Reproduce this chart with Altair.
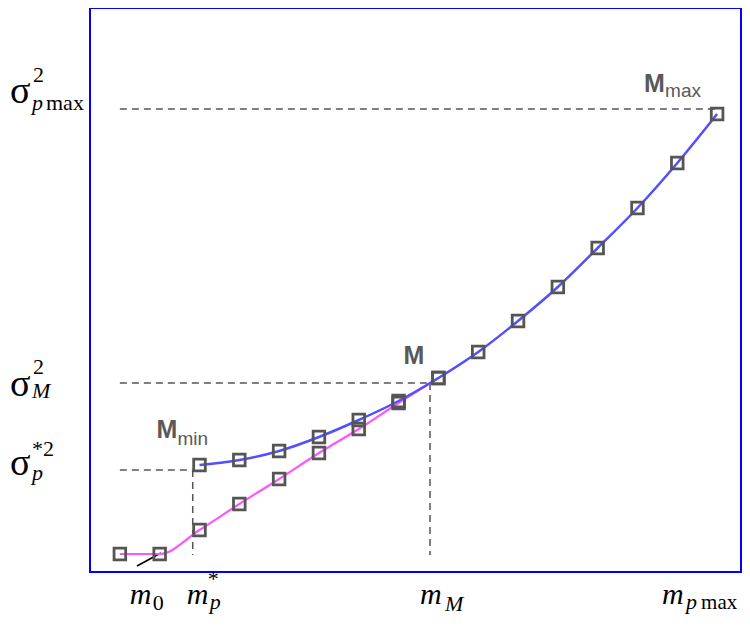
import altair as alt
import pandas as pd

# ---- data ----
m_pink = [0, 1, 2, 3, 4, 5, 6, 7, 8]
v_pink = [0.20, 0.20, 0.44, 0.70, 0.95, 1.21, 1.45, 1.71, 1.96]
m_blue = [2, 3, 4, 5, 6, 7, 8, 9, 10, 11, 12, 13, 14, 15]
v_blue = [1.09, 1.14, 1.23, 1.37, 1.54, 1.73, 1.96, 2.22, 2.53, 2.87, 3.26, 3.66, 4.11, 4.60]

m0 = 0.0
m_p_star = 1.83
m_M = 7.79
m_pmax = 15.0
var_pmax = 4.65
var_M = 1.91
var_p_star = 1.04
var_floor = 0.19

X_DOM = [-0.75, 15.6]
Y_DOM = [0.02, 5.66]

xs = alt.Scale(domain=X_DOM, nice=False, zero=False)
ys = alt.Scale(domain=Y_DOM, nice=False, zero=False)

pink_df = pd.DataFrame({"m": m_pink, "v": v_pink})
blue_df = pd.DataFrame({"m": m_blue, "v": v_blue})

X = lambda f="m": alt.X(f"{f}:Q", scale=xs, axis=None)
Y = lambda f="v": alt.Y(f"{f}:Q", scale=ys, axis=None)

dash_df = pd.DataFrame({
    "x": [m0, m0, m_M, m0, m_p_star],
    "x2": [m_pmax, m_M, m_M, m_p_star, m_p_star],
    "y": [var_pmax, var_M, var_M, var_p_star, var_p_star],
    "y2": [var_pmax, var_M, var_floor, var_p_star, var_floor],
})
dashes = alt.Chart(dash_df).mark_rule(color="#555555", strokeWidth=1.5, strokeDash=[7, 5]).encode(
    x=alt.X("x:Q", scale=xs, axis=None), x2="x2:Q",
    y=alt.Y("y:Q", scale=ys, axis=None), y2="y2:Q")

pointer_df = pd.DataFrame({"x": [0.43], "x2": [1.03], "y": [0.08], "y2": [0.21]})
pointer = alt.Chart(pointer_df).mark_rule(color="black", strokeWidth=1.5).encode(
    x=alt.X("x:Q", scale=xs, axis=None), x2="x2:Q",
    y=alt.Y("y:Q", scale=ys, axis=None), y2="y2:Q")

pink_line = alt.Chart(pink_df).mark_line(color="#ff55ff", strokeWidth=2.2, interpolate="monotone").encode(x=X(), y=Y())
blue_line = alt.Chart(blue_df).mark_line(color="#5050ff", strokeWidth=2.5, interpolate="monotone").encode(x=X(), y=Y())
pts_style = dict(shape="square", filled=False, size=135, strokeWidth=2.8, color="#555555", opacity=1)
pink_pts = alt.Chart(pink_df).mark_point(**pts_style).encode(x=X(), y=Y())
blue_pts = alt.Chart(blue_df).mark_point(**pts_style).encode(x=X(), y=Y())

layers = [dashes, pointer, pink_line, blue_line, pink_pts, blue_pts]

SERIF = "Liberation Serif"
SANS = "Liberation Sans"


def left_label(text, level, px, dy, size, style="normal"):
    d = pd.DataFrame({"v": [level], "t": [text]})
    return alt.Chart(d).mark_text(align="left", baseline="alphabetic", font=SERIF, fontSize=size,
                                  fontStyle=style, color="black", dy=dy).encode(
        x=alt.value(px), y=Y(), text="t:N")


def bottom_label(text, pos, dx, py, size, style="normal"):
    d = pd.DataFrame({"m": [pos], "t": [text]})
    return alt.Chart(d).mark_text(align="left", baseline="alphabetic", font=SERIF, fontSize=size,
                                  fontStyle=style, color="black", dx=dx).encode(
        x=X(), y=alt.value(py), text="t:N")


def point_label(text, m, v, dx, dy, size):
    d = pd.DataFrame({"m": [m], "v": [v], "t": [text]})
    return alt.Chart(d).mark_text(align="left", baseline="alphabetic", font=SANS, fontSize=size,
                                  fontWeight="bold" if text == "M" else "normal",
                                  color="#595959", dx=dx, dy=dy).encode(x=X(), y=Y(), text="t:N")


BIG, SUB = 30, 22
SIG = 38
# left labels (variance levels)
layers += [
    left_label("σ", var_pmax, -80, -6, SIG),
    left_label("2", var_pmax, -57, -27, SUB),
    left_label("p", var_pmax, -58, 1, SUB, "italic"),
    left_label("max", var_pmax, -44, 1, SUB),
    left_label("σ", var_M, -80, 13, SIG),
    left_label("2", var_M, -57, -9, SUB),
    left_label("M", var_M, -58, 15, SUB, "italic"),
    left_label("σ", var_p_star, -80, 5, SIG),
    left_label("*2", var_p_star, -58, -14, SUB),
    left_label("p", var_p_star, -58, 10, SUB, "italic"),
]
# bottom labels (m values)
layers += [
    bottom_label("m", m0, 10, 596, BIG, "italic"),
    bottom_label("0", m0, 33, 602, SUB),
    bottom_label("m", m_p_star, -6, 596, BIG, "italic"),
    bottom_label("*", m_p_star, 15, 578, SUB),
    bottom_label("p", m_p_star, 17, 601, SUB, "italic"),
    bottom_label("m", m_M, -10, 596, BIG, "italic"),
    bottom_label("M", m_M, 15, 603, SUB, "italic"),
    bottom_label("m", m_pmax, -55, 596, BIG, "italic"),
    bottom_label("p", m_pmax, -31, 601, SUB, "italic"),
    bottom_label("max", m_pmax, -16, 601, 21),
]
# point labels
layers += [
    point_label("M", m_blue[6], v_blue[6], -35, -14, 25),
    point_label("M", m_blue[0], v_blue[0], -43, -27, 25),
    point_label("min", m_blue[0], v_blue[0], -22, -20, 19),
    point_label("M", m_blue[-1], v_blue[-1], -73, -22, 25),
    point_label("max", m_blue[-1], v_blue[-1], -52, -17, 19),
]

chart = alt.layer(*layers).properties(
    width=651, height=564,
    autosize=alt.AutoSizeParams(type="none"),
    padding={"left": 82, "top": 0, "right": 1, "bottom": 44},
).configure_view(stroke="#0000ff", strokeWidth=2)

chart.save("out.html", embed_options={"renderer": "svg", "actions": False})
